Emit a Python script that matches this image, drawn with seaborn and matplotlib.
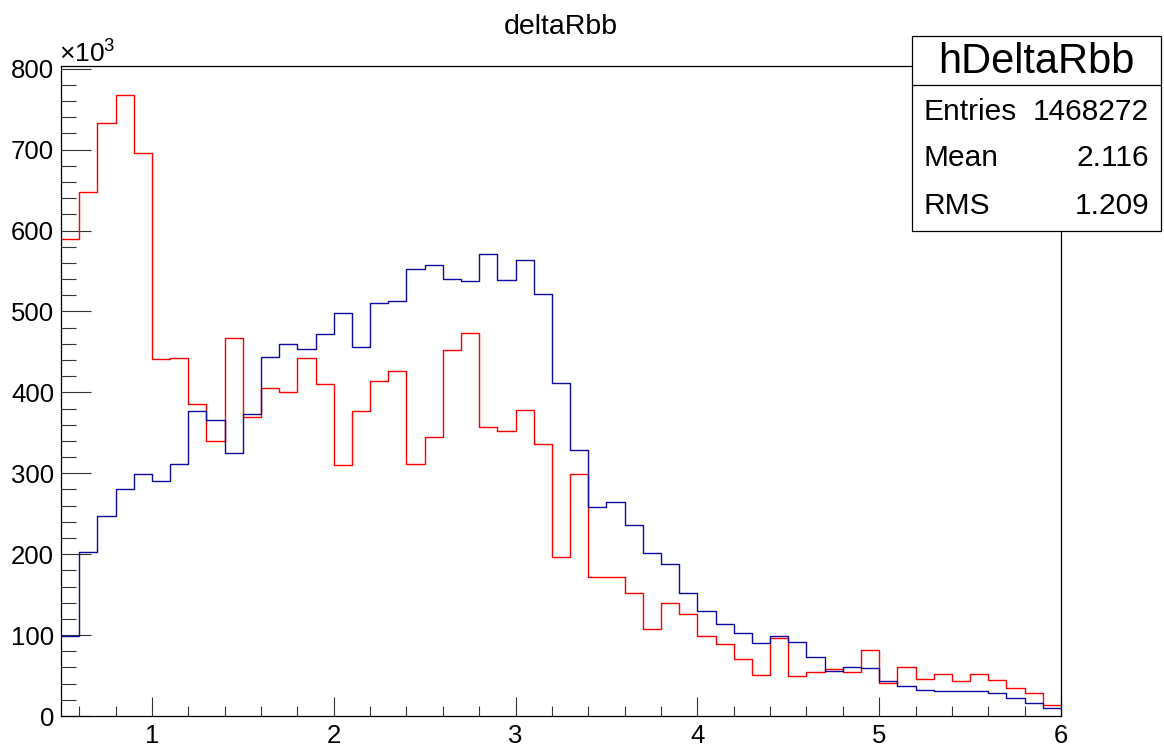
import numpy as np
import pandas as pd
import seaborn as sns
import matplotlib
matplotlib.use("Agg")
import matplotlib.pyplot as plt
from matplotlib.ticker import MultipleLocator, FixedLocator
from matplotlib.patches import Rectangle
from matplotlib.lines import Line2D

# ---- data (bin contents in units of 10^3) ----
x_low, x_high, n_bins = 0.5, 6.0, 55
red_values = [589, 648, 733, 767, 696, 441, 443, 386, 340, 467,
              369, 406, 401, 443, 410, 310, 377, 414, 427, 311,
              345, 452, 473, 357, 352, 378, 336, 197, 299, 172,
              172, 152, 108, 140, 126, 99, 89, 71, 51, 96,
              50, 55, 58, 54, 82, 41, 61, 46, 52, 43,
              52, 44, 34, 28, 13]
blue_values = [99, 203, 247, 281, 299, 290, 312, 377, 366, 325,
               373, 444, 460, 454, 472, 498, 456, 510, 513, 553,
               557, 540, 538, 571, 539, 564, 521, 411, 329, 258,
               265, 236, 202, 188, 152, 130, 114, 102, 90, 99,
               91, 73, 56, 61, 59, 43, 37, 32, 31, 31,
               31, 29, 22, 16, 10]
y_ticks = [0, 100, 200, 300, 400, 500, 600, 700, 800]
x_ticks = [1, 2, 3, 4, 5, 6]
title = "deltaRbb"
stats_name = "hDeltaRbb"
stats_rows = [("Entries", "1468272"), ("Mean", "2.116"), ("RMS", "1.209")]

bin_edges = np.linspace(x_low, x_high, n_bins + 1)
bin_centers = (bin_edges[:-1] + bin_edges[1:]) / 2
df = pd.DataFrame({"x": bin_centers, "red": red_values, "blue": blue_values})

sns.set_style("white")
plt.rcParams["font.family"] = ["Liberation Sans", "DejaVu Sans"]
plt.rcParams["mathtext.fontset"] = "custom"
plt.rcParams["mathtext.rm"] = "Liberation Sans"
plt.rcParams["mathtext.it"] = "Liberation Sans"
plt.rcParams["text.color"] = "black"
plt.rcParams["xtick.labelcolor"] = "black"
plt.rcParams["ytick.labelcolor"] = "black"

W, H = 1164, 749
fig = plt.figure(figsize=(W / 100, H / 100), dpi=100)
fig.patch.set_facecolor("white")
ax = fig.add_axes([61 / W, 1 - 716 / H, 1000 / W, (716 - 65.5) / H])

sns.histplot(data=df, x="x", weights="red", bins=n_bins, binrange=(x_low, x_high),
             element="step", fill=False, color="#ff0000", linewidth=1.0, ax=ax)
sns.histplot(data=df, x="x", weights="blue", bins=n_bins, binrange=(x_low, x_high),
             element="step", fill=False, color="#0c0ca0", linewidth=1.0, ax=ax)

ax.set_xlim(x_low, x_high)
ax.set_ylim(0, 804)
ax.set_xlabel("")
ax.set_ylabel("")

ax.yaxis.set_major_locator(FixedLocator(y_ticks))
ax.yaxis.set_minor_locator(MultipleLocator(20))
ax.xaxis.set_major_locator(FixedLocator(x_ticks))
ax.xaxis.set_minor_locator(MultipleLocator(0.2))
ax.set_yticklabels([str(v) for v in y_ticks])
ax.set_xticklabels([str(v) for v in x_ticks])

ax.tick_params(axis="y", which="major", direction="in", length=21.5, width=0.8,
               color="#333333", labelsize=18.5, labelcolor="black", pad=5,
               left=True, right=False)
ax.tick_params(axis="y", which="minor", direction="in", length=10.8, width=0.8,
               color="#333333", left=True, right=False)
ax.tick_params(axis="x", which="major", direction="in", length=13.7, width=0.8,
               color="#333333", labelsize=18.5, labelcolor="black", pad=6,
               bottom=True, top=False)
ax.tick_params(axis="x", which="minor", direction="in", length=7, width=0.8,
               color="#333333", bottom=True, top=False)
for s in ax.spines.values():
    s.set_color("black")
    s.set_linewidth(0.9)
    s.set_visible(True)

# title
fig.text(561 / W, 1 - 27 / H, title, ha="center", va="center", fontsize=20.5)
# exponent label
fig.text(59 / W, 1 - 63 / H, r"$\times10^{3}$", ha="left", va="baseline", fontsize=19)

# stats box
bx0, by0, bx1, by1 = 912, 36, 1161, 231
box = Rectangle((bx0 / W, 1 - by1 / H), (bx1 - bx0) / W, (by1 - by0) / H,
                transform=fig.transFigure, facecolor="white", edgecolor="black",
                linewidth=0.9, zorder=10)
fig.add_artist(box)
fig.add_artist(Line2D([bx0 / W, bx1 / W], [1 - 85 / H, 1 - 85 / H],
                      transform=fig.transFigure, color="black", linewidth=0.9, zorder=11))
fig.text((bx0 + bx1) / 2 / W, 1 - 62 / H, stats_name, ha="center", va="center",
         fontsize=30, zorder=12)
row_y = [112, 158, 206]
for (lab, val), yy in zip(stats_rows, row_y):
    fig.text(924 / W, 1 - yy / H, lab, ha="left", va="center", fontsize=21.5, zorder=12)
    fig.text(1149 / W, 1 - yy / H, val, ha="right", va="center", fontsize=21.5, zorder=12)

fig.savefig("out.png", dpi=100, facecolor="white")
